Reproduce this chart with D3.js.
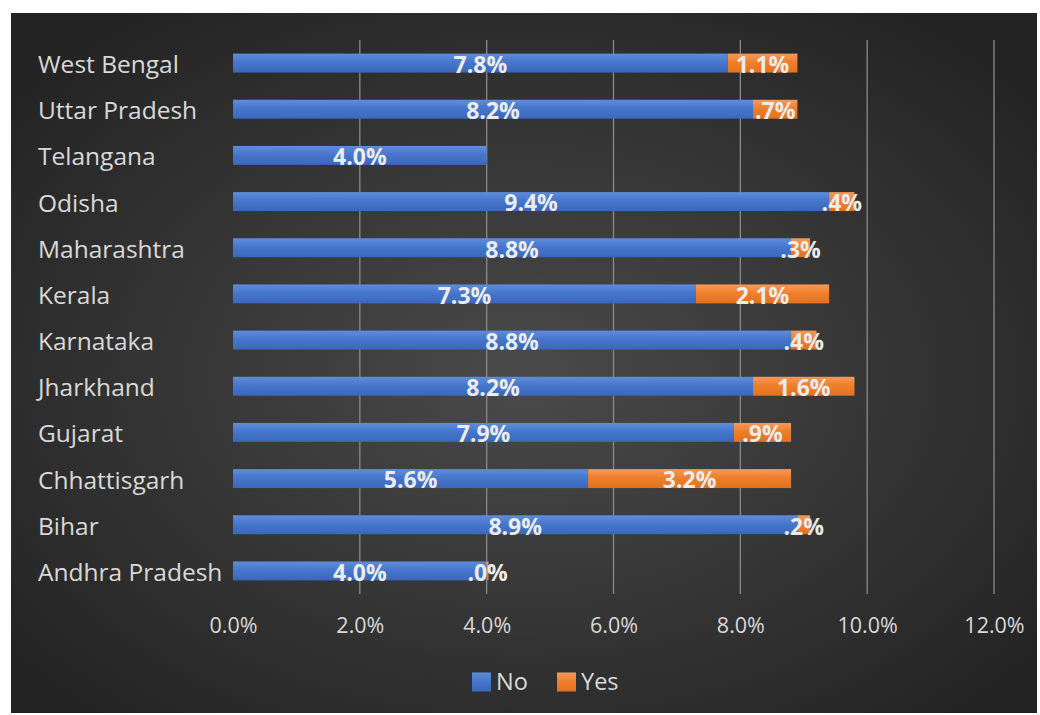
<!DOCTYPE html>
<html>
<head>
<meta charset="utf-8">
<script src="https://cdn.jsdelivr.net/npm/d3@7"></script>
<style>
  html, body { margin: 0; padding: 0; background: #ffffff; }
  svg { display: block; }
</style>
</head>
<body>
<svg id="chart" width="1040" height="715"></svg>
<script>
// States listed bottom to top as they appear on the category axis
const states = ["Andhra Pradesh", "Bihar", "Chhattisgarh", "Gujarat", "Jharkhand", "Karnataka",
                "Kerala", "Maharashtra", "Odisha", "Telangana", "Uttar Pradesh", "West Bengal"];
const noValues  = [4.0, 8.9, 5.6, 7.9, 8.2, 8.8, 7.3, 8.8, 9.4, 4.0, 8.2, 7.8];
const yesValues = [0.03, 0.2, 3.2, 0.9, 1.6, 0.4, 2.1, 0.3, 0.4, null, 0.7, 1.1];
const seriesNames = ["No", "Yes"];
const seriesColors = ["#4472C4", "#ED7D31"];
const xTicks = [0, 2, 4, 6, 8, 10, 12];

const svg = d3.select("#chart");
const W = 1040, H = 715;
const font = "'Open Sans', Lato, sans-serif";

// Panel background with soft radial light
const defs = svg.append("defs");
const bg = defs.append("radialGradient").attr("id", "bgGrad")
  .attr("cx", "50%").attr("cy", "52%").attr("r", "65%");
bg.append("stop").attr("offset", "0%").attr("stop-color", "#4a4a4a");
bg.append("stop").attr("offset", "100%").attr("stop-color", "#232323");

function barGradient(id, top, mid, bottom) {
  const g = defs.append("linearGradient").attr("id", id)
    .attr("x1", 0).attr("y1", 0).attr("x2", 0).attr("y2", 1);
  g.append("stop").attr("offset", "0%").attr("stop-color", top);
  g.append("stop").attr("offset", "45%").attr("stop-color", mid);
  g.append("stop").attr("offset", "100%").attr("stop-color", bottom);
}
barGradient("gNo", "#5f8ddb", "#4677cc", "#3a67bb");
barGradient("gYes", "#f59a5a", "#f07f2c", "#e2721f");
const fills = ["url(#gNo)", "url(#gYes)"];

svg.append("rect").attr("x", 11).attr("y", 13).attr("width", 1026).attr("height", 700)
  .attr("fill", "url(#bgGrad)");

const margin = { left: 233, right: 46, top: 40, bottom: 121 };
const x = d3.scaleLinear().domain([0, 12]).range([margin.left, 994]);
const y = d3.scaleBand().domain(states.slice().reverse())
  .range([margin.top, H - margin.bottom]).paddingInner(0.59).paddingOuter(0.295);

// Vertical gridlines
svg.append("g").selectAll("line").data(xTicks.slice(1)).join("line")
  .attr("x1", d => x(d)).attr("x2", d => x(d))
  .attr("y1", margin.top).attr("y2", H - margin.bottom)
  .attr("stroke", "#8a8a8a").attr("stroke-width", 1.3);

// Value axis labels
const xAxis = d3.axisBottom(x).tickValues(xTicks).tickSize(0).tickPadding(0)
  .tickFormat(d => d.toFixed(1) + "%");
const gx = svg.append("g").attr("transform", `translate(0, ${H - margin.bottom + 39})`).call(xAxis);
gx.select(".domain").remove();
gx.selectAll("text").attr("fill", "#d9d9d9").attr("font-family", font).attr("font-size", 21.5)
  .attr("dy", 0);

// Category axis labels
const yAxis = d3.axisLeft(y).tickSize(0).tickPadding(0);
const gy = svg.append("g").attr("transform", "translate(38, 1.5)").call(yAxis);
gy.select(".domain").remove();
gy.selectAll("text").attr("text-anchor", "start").attr("fill", "#d9d9d9")
  .attr("font-family", font).attr("font-size", 24.5).attr("dy", "0.35em");

// Stacked segments
const rows = states.map((s, i) => ({ state: s, vals: [noValues[i], yesValues[i]] }));
const segs = [];
rows.forEach(r => {
  let start = 0;
  r.vals.forEach((v, k) => {
    if (v === null) return;
    segs.push({ state: r.state, k, v, x0: start, x1: start + v });
    start += v;
  });
});

svg.append("g").selectAll("rect").data(segs).join("rect")
  .attr("x", d => x(d.x0)).attr("width", d => Math.max(1.5, x(d.x1) - x(d.x0)))
  .attr("y", d => y(d.state)).attr("height", y.bandwidth())
  .attr("fill", d => fills[d.k]);

// Data labels centred in each segment
const fmtNo = v => v.toFixed(1) + "%";
const fmtYes = v => v.toFixed(1).replace(/^0/, "") + "%";
svg.append("g").selectAll("text").data(segs).join("text")
  .attr("x", d => x((d.x0 + d.x1) / 2)).attr("y", d => y(d.state) + y.bandwidth() / 2 + 1.5)
  .attr("dy", "0.36em").attr("text-anchor", "middle")
  .attr("fill", "#ececec").attr("font-family", font).attr("font-weight", "bold")
  .attr("font-size", 23)
  .text(d => d.k === 0 ? fmtNo(d.v) : fmtYes(d.v));

// Legend
const legend = svg.append("g").attr("transform", "translate(472, 682)");
const items = [{ name: seriesNames[0], x: 0 }, { name: seriesNames[1], x: 85 }];
items.forEach((it, i) => {
  legend.append("rect").attr("x", it.x).attr("y", -9.5).attr("width", 19).attr("height", 19)
    .attr("fill", fills[i]);
  legend.append("text").attr("x", it.x + 24).attr("y", 0).attr("dy", "0.36em")
    .attr("fill", "#d9d9d9").attr("font-family", font).attr("font-size", 23.5).text(it.name);
});
</script>
</body>
</html>
